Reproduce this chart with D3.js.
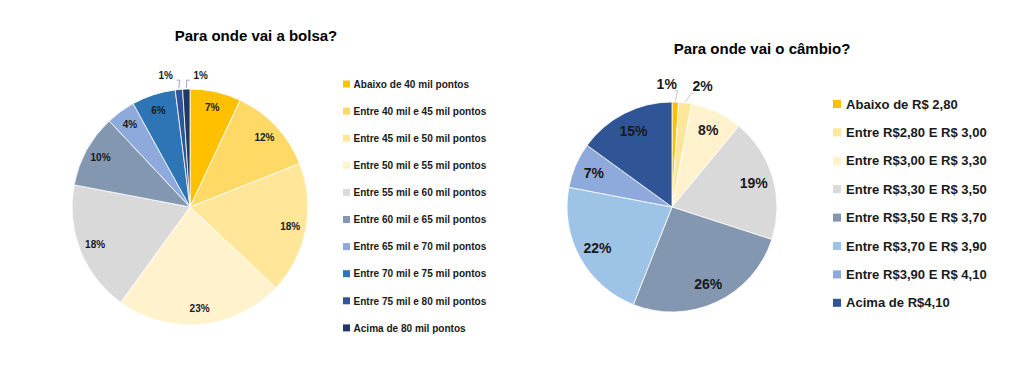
<!DOCTYPE html>
<html>
<head>
<meta charset="utf-8">
<script src="https://cdn.jsdelivr.net/npm/d3@7/dist/d3.min.js"></script>
<style>
  html, body { margin: 0; padding: 0; background: #ffffff; }
  svg { display: block; }
  text { font-family: "Liberation Sans", Arial, sans-serif; }
</style>
</head>
<body>
<svg id="chart" width="1029" height="378"></svg>
<script>
// ---------- DATA ----------
const bolsaTitle = "Para onde vai a bolsa?";
const bolsaCategories = [
  "Abaixo de 40 mil pontos",
  "Entre 40 mil e 45 mil pontos",
  "Entre 45 mil e 50 mil pontos",
  "Entre 50 mil e 55 mil pontos",
  "Entre 55 mil e 60 mil pontos",
  "Entre 60 mil e 65 mil pontos",
  "Entre 65 mil e 70 mil pontos",
  "Entre 70 mil e 75 mil pontos",
  "Entre 75 mil e 80 mil pontos",
  "Acima de 80 mil pontos"
];
const bolsaValues = [7, 12, 18, 23, 18, 10, 4, 6, 1, 1];

const cambioTitle = "Para onde vai o câmbio?";
const cambioCategories = [
  "Abaixo de R$ 2,80",
  "Entre R$2,80 E R$ 3,00",
  "Entre R$3,00 E R$ 3,30",
  "Entre R$3,30 E R$ 3,50",
  "Entre R$3,50 E R$ 3,70",
  "Entre R$3,70 E R$ 3,90",
  "Entre R$3,90 E R$ 4,10",
  "Acima de R$4,10"
];
const cambioValues = [1, 2, 8, 19, 26, 22, 7, 15];

// ---------- STYLES ----------
const bolsaColors = ["#FFC000", "#FFD966", "#FFE699", "#FFF2CC", "#D9D9D9",
                     "#8497B0", "#8EA9DB", "#2E75B6", "#2F5597", "#203864"];
const cambioColors = ["#FFC000", "#FFE699", "#FFF2CC", "#D9D9D9",
                      "#8497B0", "#9DC3E6", "#8EA9DB", "#2F5597"];

const svg = d3.select("#chart");

function drawPie(cfg) {
  const g = svg.append("g");
  // title
  g.append("text")
    .attr("x", cfg.titleX).attr("y", cfg.titleY)
    .attr("text-anchor", "middle")
    .attr("font-size", 15).attr("font-weight", "bold")
    .attr("fill", "#000")
    .text(cfg.title);

  const data = cfg.categories.map((c, i) => ({ cat: c, value: cfg.values[i], color: cfg.colors[i] }));
  const pie = d3.pie().sort(null).value(d => d.value);
  const arcs = pie(data);
  const arc = d3.arc().innerRadius(0).outerRadius(cfg.r);

  const pg = g.append("g").attr("transform", `translate(${cfg.cx},${cfg.cy})`);
  pg.selectAll("path.slice").data(arcs).enter().append("path")
    .attr("class", "slice")
    .attr("d", arc)
    .attr("fill", d => d.data.color)
    .attr("stroke", "#ffffff")
    .attr("stroke-width", 0.8);

  const pt = (a, R) => [R * Math.sin(a), -R * Math.cos(a)];
  const mid = d => (d.startAngle + d.endAngle) / 2;

  const inside = arcs.filter(d => d.data.value > cfg.smallMax);
  const outside = arcs.filter(d => d.data.value <= cfg.smallMax);

  pg.selectAll("text.inlab").data(inside).enter().append("text")
    .attr("class", "inlab")
    .attr("x", d => pt(mid(d), cfg.r * cfg.labelFrac)[0])
    .attr("y", d => pt(mid(d), cfg.r * cfg.labelFrac)[1])
    .attr("dy", "0.36em")
    .attr("text-anchor", "middle")
    .attr("font-size", cfg.labelSize).attr("font-weight", "bold")
    .attr("fill", "#1a1a1a")
    .text(d => d.data.value + "%");

  // outside labels with simple spreading
  const outs = outside.map(d => {
    const p = pt(mid(d), cfg.r * cfg.outFrac);
    return { d, x: p[0], y: p[1] };
  });
  if (outs.length === 2) {
    const m = (outs[0].x + outs[1].x) / 2 + cfg.outShift;
    outs[0].x = m - cfg.outSep / 2;
    outs[1].x = m + cfg.outSep / 2;
    const my = (outs[0].y + outs[1].y) / 2;
    outs[0].y = my; outs[1].y = my + cfg.outDy;
  }
  outs.forEach((o, i) => {
    pg.append("text")
      .attr("x", o.x).attr("y", o.y).attr("dy", "0.36em")
      .attr("text-anchor", "middle")
      .attr("font-size", cfg.labelSize).attr("font-weight", "bold")
      .attr("fill", "#1a1a1a")
      .text(o.d.data.value + "%");
    const e = pt(mid(o.d), cfg.r + 1);
    const side = i === 0 ? 1 : -1;
    const sx = o.x + side * cfg.leadOff;
    const sy = o.y + cfg.labelSize * 0.5;
    const path = d3.path();
    path.moveTo(sx, sy);
    path.lineTo(sx + side * 3, sy);
    path.lineTo(e[0], e[1]);
    pg.append("path")
      .attr("d", path.toString())
      .attr("fill", "none")
      .attr("stroke", cfg.leadColor)
      .attr("stroke-width", 1);
  });

  // legend
  const lg = g.append("g");
  const rows = lg.selectAll("g.row").data(data).enter().append("g")
    .attr("class", "row")
    .attr("transform", (d, i) => `translate(${cfg.legX},${cfg.legY + i * cfg.legStep})`);
  rows.append("rect")
    .attr("x", 0).attr("y", -cfg.sq / 2)
    .attr("width", cfg.sq).attr("height", cfg.sq)
    .attr("fill", d => d.color);
  const tg = rows.append("g").attr("transform", `translate(${cfg.legTextDx},0)`);
  const texts = tg.append("text")
    .attr("x", 0).attr("y", 0).attr("dy", "0.36em")
    .attr("font-size", cfg.legSize).attr("font-weight", "bold")
    .attr("fill", "#1a1a1a")
    .text(d => d.cat);
  // compress horizontally to mimic the narrower original font
  const refNode = texts.nodes()[cfg.legRefIndex];
  const w = refNode.getComputedTextLength();
  const k = cfg.legRefWidth / w;
  tg.attr("transform", `translate(${cfg.legTextDx},0) scale(${k},1)`);
}

drawPie({
  title: bolsaTitle, titleX: 256, titleY: 41,
  categories: bolsaCategories, values: bolsaValues, colors: bolsaColors,
  cx: 190, cy: 207, r: 118,
  labelFrac: 0.865, labelSize: 10, smallMax: 1,
  outFrac: 1.12, outSep: 35, outShift: 1.5, outDy: 0, leadOff: 11, leadColor: "#a3a3d6",
  legX: 343, legY: 84, legStep: 27.1, sq: 7, legTextDx: 10.5,
  legSize: 10.5, legRefIndex: 1, legRefWidth: 133
});

drawPie({
  title: cambioTitle, titleX: 762, titleY: 54,
  categories: cambioCategories, values: cambioValues, colors: cambioColors,
  cx: 672, cy: 207, r: 105,
  labelFrac: 0.81, labelSize: 14, smallMax: 2,
  outFrac: 1.18, outSep: 36, outShift: 3, outDy: 2.5, leadOff: 8, leadColor: "#c8c8c8",
  legX: 833, legY: 104, legStep: 28.4, sq: 8, legTextDx: 13,
  legSize: 13, legRefIndex: 1, legRefWidth: 141
});
</script>
</body>
</html>
